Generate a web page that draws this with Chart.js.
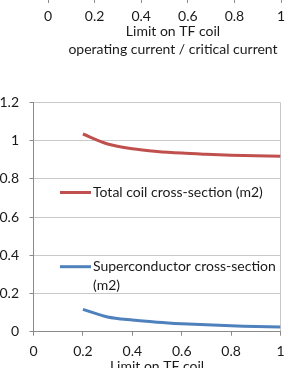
<!DOCTYPE html>
<html>
<head>
<meta charset="utf-8">
<script src="https://cdn.jsdelivr.net/npm/chart.js@4"></script>
<style>
  html, body { margin: 0; padding: 0; background: #fff; }
  body { width: 292px; height: 368px; overflow: hidden; position: relative; }
  #topWrap { position: absolute; left: 0; top: -60px; width: 346px; height: 120px; }
  #mainWrap { position: absolute; left: 0; top: 80px; width: 292px; height: 300px; }
</style>
</head>
<body>
<div id="topWrap"><canvas id="topChart"></canvas></div>
<div id="mainWrap"><canvas id="mainChart"></canvas></div>
<script>
// ---- data ----
const limitValues = [0.2, 0.3, 0.4, 0.5, 0.6, 0.7, 0.8, 0.9, 1.0];
const totalCoilSection = [1.035, 0.983, 0.958, 0.944, 0.935, 0.929, 0.924, 0.921, 0.918];
const superconductorSection = [0.117, 0.077, 0.061, 0.050, 0.042, 0.036, 0.031, 0.027, 0.024];
const seriesLabels = ['Total coil cross-section (m2)', 'Superconductor cross-section (m2)'];
const xAxisTitle = 'Limit on TF coil';
const topAxisTitle = ['Limit on TF coil', 'operating current / critical current'];
const xTickValues = [0, 0.2, 0.4, 0.6, 0.8, 1];
const yTickValues = [0, 0.2, 0.4, 0.6, 0.8, 1, 1.2];

const FONT = 'Lato, "Open Sans", sans-serif';
const FS = 14;
const TXT = '#1a1a1a';
const GRID = '#c9c9c9';
const AXIS = '#8a8a8a';
const RED = '#c0504d';
const BLUE = '#4f81bd';
const fmt = v => String(Number(Number(v).toFixed(2)));

Chart.defaults.font.family = FONT;
Chart.defaults.font.size = FS;
Chart.defaults.color = TXT;

// ---- top (cut-off) chart: only its x axis and titles are visible ----
new Chart(document.getElementById('topChart'), {
  type: 'scatter',
  data: { datasets: [] },
  options: {
    responsive: true, maintainAspectRatio: false, animation: false,
    layout: { padding: { left: 0, right: 0, top: 10, bottom: 2 } },
    plugins: {
      legend: { display: false }, tooltip: { enabled: false },
      title: { display: true, position: 'bottom', text: topAxisTitle, color: TXT,
               font: { family: FONT, size: FS, weight: 'normal', lineHeight: 18 / FS },
               padding: { top: 0, bottom: 0 } }
    },
    scales: {
      x: {
        type: 'linear', min: 0, max: 1,
        afterBuildTicks: s => { s.ticks = xTickValues.map(v => ({ value: v })); },
        afterFit: s => { s.height = 23; },
        grid: { display: true, drawOnChartArea: false, drawTicks: true, tickLength: 4, tickColor: AXIS },
        border: { display: true, color: AXIS },
        ticks: { padding: 4.6, color: TXT, maxRotation: 0, autoSkip: false, callback: fmt }
      },
      y: {
        type: 'linear', min: 0, max: 1,
        afterFit: s => { s.width = 48; },
        grid: { display: false }, border: { display: false },
        ticks: { display: false }
      },
      yRight: {
        type: 'linear', position: 'right', min: 0, max: 1,
        afterFit: s => { s.width = 65; },
        grid: { display: false }, border: { display: false },
        ticks: { display: false }
      }
    }
  }
});

// ---- in-chart legend plugin ----
const insideLegend = {
  id: 'insideLegend',
  afterDatasetsDraw(chart) {
    const { ctx } = chart;
    const items = [
      { ds: 0, y: 192.5 - 80 },
      { ds: 1, y: 266.7 - 80 }
    ];
    ctx.save();
    ctx.font = FS + 'px ' + FONT;
    ctx.textBaseline = 'middle';
    ctx.fillStyle = TXT;
    const maxW = 192, lineH = 19;
    items.forEach(it => {
      const ds = chart.data.datasets[it.ds];
      ctx.strokeStyle = ds.borderColor;
      ctx.lineWidth = 3;
      ctx.lineCap = 'butt';
      ctx.beginPath();
      ctx.moveTo(60, it.y);
      ctx.lineTo(91, it.y);
      ctx.stroke();
      const words = ds.label.split(' ');
      const lines = [];
      let cur = '';
      words.forEach(w => {
        const t = cur ? cur + ' ' + w : w;
        if (ctx.measureText(t).width > maxW && cur) { lines.push(cur); cur = w; } else { cur = t; }
      });
      lines.push(cur);
      lines.forEach((l, i) => ctx.fillText(l, 93, it.y + i * lineH));
    });
    ctx.restore();
  }
};

// ---- main chart ----
new Chart(document.getElementById('mainChart'), {
  type: 'line',
  data: {
    datasets: [
      { label: seriesLabels[0], data: limitValues.map((x, i) => ({ x, y: totalCoilSection[i] })),
        borderColor: RED, backgroundColor: RED, borderWidth: 3, pointRadius: 0, tension: 0.3, fill: false },
      { label: seriesLabels[1], data: limitValues.map((x, i) => ({ x, y: superconductorSection[i] })),
        borderColor: BLUE, backgroundColor: BLUE, borderWidth: 3, pointRadius: 0, tension: 0.3, fill: false }
    ]
  },
  plugins: [insideLegend],
  options: {
    responsive: true, maintainAspectRatio: false, animation: false,
    layout: { padding: { left: 0, right: 5, top: 22.5, bottom: 0 } },
    plugins: { legend: { display: false }, tooltip: { enabled: false } },
    scales: {
      x: {
        type: 'linear', min: 0, max: 1,
        afterBuildTicks: s => { s.ticks = xTickValues.map(v => ({ value: v })); },
        afterFit: s => { s.height = 48.3; },
        grid: {
          display: true, drawOnChartArea: true, drawTicks: true, tickLength: 4,
          color: c => (c.tick && c.tick.value === 1) ? GRID : 'rgba(0,0,0,0)',
          tickColor: AXIS
        },
        border: { display: true, color: AXIS },
        ticks: { padding: 7.4, color: TXT, maxRotation: 0, autoSkip: false, callback: fmt },
        title: { display: true, text: xAxisTitle, color: TXT, font: { size: FS }, padding: { top: 0, bottom: 5.1 } }
      },
      y: {
        type: 'linear', min: 0, max: 1.2,
        afterBuildTicks: s => { s.ticks = yTickValues.map(v => ({ value: v })); },
        afterFit: s => { s.width = 33.5; },
        grid: { display: true, color: GRID, tickColor: AXIS, tickLength: 4 },
        border: { display: true, color: AXIS },
        ticks: { padding: 10.5, color: TXT, callback: fmt }
      }
    }
  }
});
</script>
</body>
</html>
